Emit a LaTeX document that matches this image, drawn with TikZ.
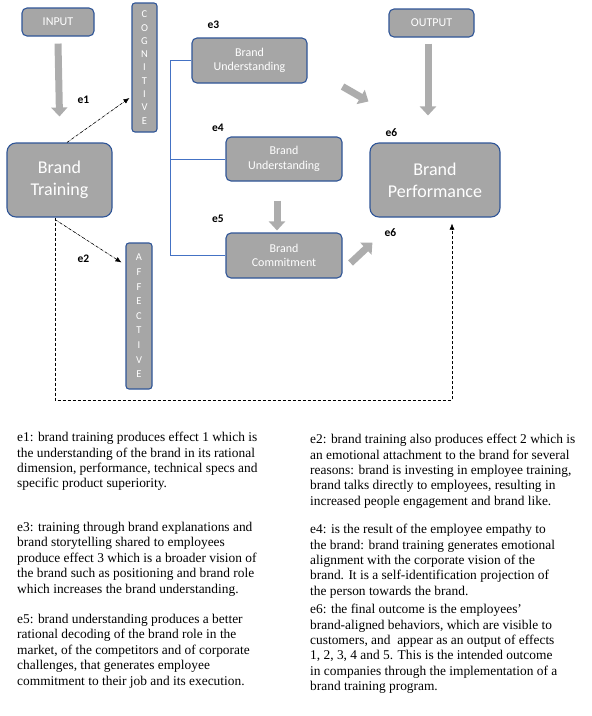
\documentclass[tikz,border=0pt]{standalone}
\usepackage{fontspec}
\setmainfont{Liberation Serif}
\setsansfont{Carlito}
\usepackage{tikz}
\usetikzlibrary{arrows.meta}

\definecolor{boxfill}{HTML}{A6A6A6}
\definecolor{boxline}{HTML}{2F5597}
\definecolor{fatgray}{HTML}{ADADAD}
\definecolor{spineblue}{HTML}{4472C4}

\tikzset{
  box/.style={draw=boxline, line width=1.1pt, fill=boxfill, rounded corners=5pt,
    text=white, align=center, font=\sffamily\fontsize{12}{14.3}\selectfont, inner sep=0pt},
  bigbox/.style={box, rounded corners=9pt, minimum height=74pt,
    font=\sffamily\fontsize{18}{22}\selectfont},
  strip/.style={box, rounded corners=3pt, font=\sffamily\fontsize{10.5}{13.3}\selectfont},
  elabel/.style={font=\sffamily\bfseries\fontsize{11.5}{12}\selectfont, inner sep=0pt},
  fatarrow/.style={draw=fatgray, line width=7pt, -{Triangle[width=16pt,length=9pt]}, fatgray},
  dotarrow/.style={densely dashdotted, line width=0.6pt, -{Latex[length=6pt,width=5pt]}},
  note/.style={anchor=north west, align=left, inner sep=0pt,
    font=\fontsize{13.4}{15.4}\selectfont}
}

\begin{document}
\begin{tikzpicture}[x=1pt, y=-1pt]
  \useasboundingbox (0,0) rectangle (592,716);

  % Nodes
  \node[box, minimum width=72pt, minimum height=28pt] (input) at (58,22) {INPUT};
  \node[box, minimum width=85pt, minimum height=28pt] (output) at (431.5,23) {OUTPUT};
  \node[strip, minimum width=25pt, minimum height=129pt] (cognitive) at (144.5,67.5) {C\\O\\G\\N\\I\\T\\I\\V\\E};
  \node[strip, minimum width=26pt, minimum height=146pt, font=\sffamily\fontsize{10.5}{14.6}\selectfont] (affective) at (139,316) {A\\F\\F\\E\\C\\T\\I\\V\\E};
  \node[bigbox, minimum width=105pt] (training) at (59.5,180) {Brand\\Training};
  \node[bigbox, minimum width=130pt] (perf) at (435,180) {Brand\\Performance};
  \node[box, minimum width=115pt, minimum height=45pt] (under1) at (249.5,60.5) {Brand\\Understanding};
  \node[box, minimum width=116pt, minimum height=44pt] (under2) at (284,159) {Brand\\Understanding};
  \node[box, minimum width=116pt, minimum height=45pt] (commit) at (284,255.5) {Brand\\Commitment};

  % Effect labels
  \node[elabel] (e1) at (83.5,100) {e1};
  \node[elabel] (e2) at (83.5,259) {e2};
  \node[elabel] (e3) at (213.5,25) {e3};
  \node[elabel] (e4) at (218,128) {e4};
  \node[elabel] (e5) at (218,219) {e5};
  \node[elabel] (e6a) at (391.5,133) {e6};
  \node[elabel] (e6b) at (390.5,233) {e6};

  % Helper coordinates
  \coordinate (spine) at (170,0);
  \coordinate (lowleft) at (55,400);
  \coordinate (lowright) at (452,400);

  % Edges
  \draw[spineblue, line width=0.8pt] (under1.west) -- (under1.west -| spine) |- (commit.west);
  \draw[spineblue, line width=0.8pt] (under2.west) -- (under2.west -| spine);

  \draw[fatarrow] ([yshift=-7pt]input.south) -- ([yshift=26pt]training.north);
  \draw[fatarrow] ([xshift=-3.5pt,yshift=-6pt]output.south) -- ([xshift=-7pt,yshift=27pt]perf.north);
  \draw[fatarrow] ([xshift=-7pt,yshift=-19pt]under2.south) -- ([xshift=-7pt,yshift=2pt]commit.north);
  \draw[fatarrow] ([shift={(35,3)}]under1.south east) -- ([shift={(-1,-41)}]perf.north west);
  \draw[fatarrow] ([shift={(8,7.5)}]commit.east) -- ([shift={(3,25)}]perf.south west);

  \draw[dotarrow] ([xshift=7.5pt]training.north) -- ([shift={(-2,30.5)}]cognitive.west);
  \draw[dotarrow] ([xshift=-4.5pt,yshift=-2pt]training.south) -- ([shift={(-4,20)}]affective.north west);
  \draw[densely dashed, line width=0.6pt, -{Latex[length=6pt,width=5pt]}, shorten >=6pt]
    (training.south -| lowleft) -- (lowleft) -- (lowright) -- (perf.south -| lowright);

  % Notes
  \node[note] (n1) at (17,432) {e1: brand training produces effect 1 which is\\the understanding of the brand in its rational\\dimension, performance, technical specs and\\specific product superiority.};
  \node[note] (n3) at (17,522) {e3: training through brand explanations and\\brand storytelling shared to employees\\produce effect 3 which is a broader vision of\\the brand such as positioning and brand role\\which increases the brand understanding.};
  \node[note] (n5) at (17,614) {e5: brand understanding produces a better\\rational decoding of the brand role in the\\market, of the competitors and of corporate\\challenges, that generates employee\\commitment to their job and its execution.};
  \node[note] (n2) at (310,434) {e2: brand training also produces effect 2 which is\\an emotional attachment to the brand for several\\reasons: brand is investing in employee training,\\brand talks directly to employees, resulting in\\increased people engagement and brand like.};
  \node[note] (n4) at (310,524) {e4: is the result of the employee empathy to\\the brand: brand training generates emotional\\alignment with the corporate vision of the\\brand. It is a self-identification projection of\\the person towards the brand.};
  \node[note] (n6) at (310,604) {e6: the final outcome is the employees'\\brand-aligned behaviors, which are visible to\\customers, and\ \ appear as an output of effects\\1, 2, 3, 4 and 5. This is the intended outcome\\in companies through the implementation of a\\brand training program.};
\end{tikzpicture}
\end{document}
